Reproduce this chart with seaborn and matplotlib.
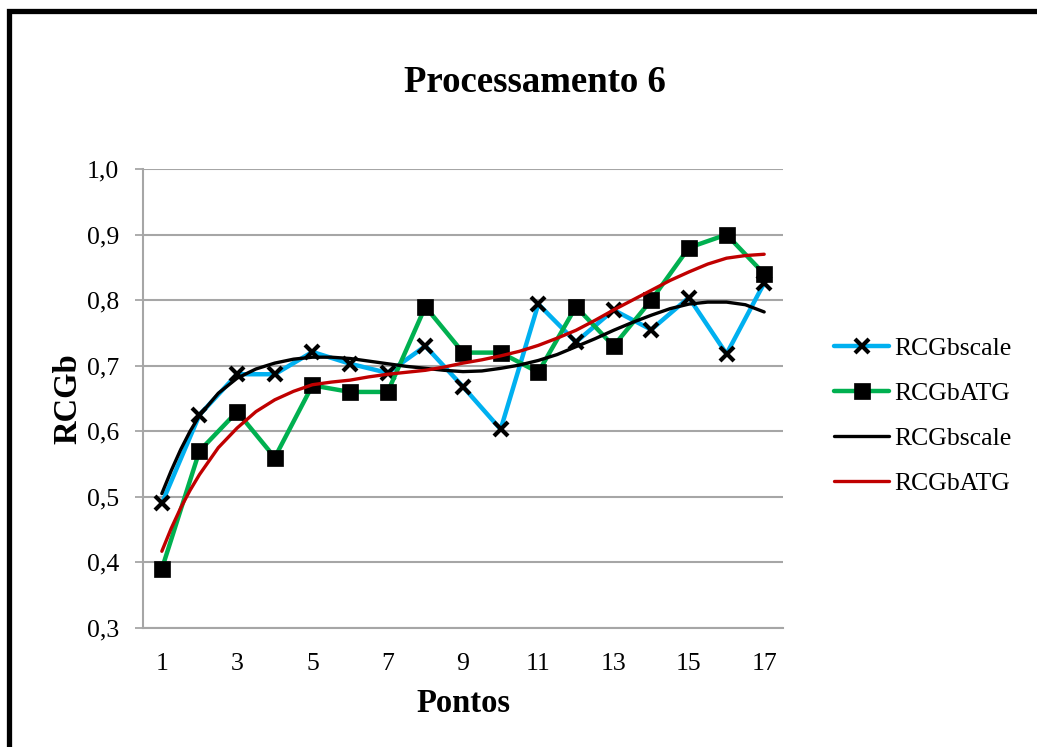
import matplotlib
matplotlib.use("Agg")
import matplotlib.pyplot as plt
import matplotlib.patches as patches
import seaborn as sns

# data
pontos = list(range(1, 18))
rcgb_scale = [0.49, 0.625, 0.687, 0.687, 0.721, 0.703, 0.689, 0.730, 0.668,
              0.603, 0.794, 0.736, 0.785, 0.755, 0.804, 0.718, 0.826]
rcgb_atg = [0.39, 0.57, 0.63, 0.56, 0.67, 0.66, 0.66, 0.79, 0.72,
            0.72, 0.69, 0.79, 0.73, 0.80, 0.88, 0.90, 0.84]

# trend lines (polynomial trendlines in the original)
trend_x = [1, 1.25, 1.5, 1.75, 2, 2.5, 3, 3.5, 4, 4.5, 5, 5.5, 6, 6.5, 7,
           7.5, 8, 8.5, 9, 9.5, 10, 10.5, 11, 11.5, 12, 12.5, 13, 13.5, 14,
           14.5, 15, 15.5, 16, 16.5, 17]
trend_scale = [0.505, 0.540, 0.572, 0.600, 0.624, 0.658, 0.681, 0.695, 0.704,
               0.710, 0.713, 0.713, 0.711, 0.707, 0.703, 0.699, 0.696, 0.693,
               0.691, 0.692, 0.696, 0.701, 0.708, 0.717, 0.729, 0.741, 0.754,
               0.766, 0.777, 0.787, 0.794, 0.797, 0.797, 0.793, 0.782]
trend_atg = [0.417, 0.452, 0.483, 0.510, 0.534, 0.575, 0.605, 0.630, 0.648,
             0.661, 0.671, 0.675, 0.678, 0.683, 0.687, 0.690, 0.693, 0.698,
             0.704, 0.709, 0.715, 0.722, 0.731, 0.742, 0.754, 0.769, 0.785,
             0.800, 0.815, 0.830, 0.843, 0.855, 0.864, 0.868, 0.870]

y_ticks = [0.3, 0.4, 0.5, 0.6, 0.7, 0.8, 0.9, 1.0]
y_labels = ["0,3", "0,4", "0,5", "0,6", "0,7", "0,8", "0,9", "1,0"]
x_ticks = [1, 3, 5, 7, 9, 11, 13, 15, 17]

sns.set_theme(style="white")
plt.rcParams["font.family"] = ["Liberation Serif", "DejaVu Serif"]
plt.rcParams["text.color"] = "black"
plt.rcParams["axes.labelcolor"] = "black"
plt.rcParams["xtick.labelcolor"] = "black"
plt.rcParams["ytick.labelcolor"] = "black"

W, H = 1037, 747
fig = plt.figure(figsize=(W / 100, H / 100), dpi=100)
ax = fig.add_axes([143 / W, 1 - 628 / H, (783 - 143) / W, (628 - 169) / H])

grid_color = "#A6A6A6"

sns.lineplot(x=pontos, y=rcgb_scale, ax=ax, color="#00B0F0", lw=3.2,
             marker="x", ms=10, mec="black", mew=3, label="RCGbscale", zorder=3)
sns.lineplot(x=pontos, y=rcgb_atg, ax=ax, color="#00B050", lw=3.2,
             marker="s", ms=11.5, mfc="black", mec="black", mew=0.5,
             label="RCGbATG", zorder=3)
sns.lineplot(x=trend_x, y=trend_scale, ax=ax, color="black", lw=2.4,
             solid_joinstyle="round", label="RCGbscale", zorder=4)
sns.lineplot(x=trend_x, y=trend_atg, ax=ax, color="#C00000", lw=2.4,
             solid_joinstyle="round", label="RCGbATG", zorder=4)

ax.set_xlim(0.5, 17.5)
ax.set_ylim(0.3, 1.0)
ax.set_yticks(y_ticks)
ax.set_yticklabels(y_labels)
ax.set_xticks(x_ticks)
ax.set_xticklabels([str(v) for v in x_ticks])
ax.tick_params(axis="y", length=6, width=1.3, color=grid_color, direction="out",
               pad=11, labelsize=18.5, left=True)
ax.tick_params(axis="x", length=0, pad=18, labelsize=18.5)

ax.yaxis.grid(True, color=grid_color, lw=1.5)
ax.xaxis.grid(False)
for side in ["top", "right"]:
    ax.spines[side].set_visible(False)
for side in ["left", "bottom"]:
    ax.spines[side].set_color(grid_color)
    ax.spines[side].set_linewidth(1.5)

ax.set_xlabel("Pontos", fontsize=23.5, fontweight="bold", labelpad=9)
ax.set_ylabel("RCGb", fontsize=23.5, fontweight="bold", labelpad=3)

fig.text(535 / W, 1 - 83 / H, "Processamento 6", fontsize=26.5,
         fontweight="bold", ha="center", va="center")

leg = ax.legend(loc="center left", bbox_to_anchor=(834 / W, 1 - 416 / H),
                bbox_transform=fig.transFigure, frameon=False, fontsize=18.5,
                handlelength=2.15, handletextpad=0.2, labelspacing=0.86,
                borderaxespad=0, borderpad=0)

# black frame of the chart area (right and bottom edges fall outside the image)
frame = patches.Rectangle((8.5 / W, -0.1), 1.2, 1 - 11 / H + 0.1,
                          transform=fig.transFigure, fill=False,
                          edgecolor="black", lw=3.8, clip_on=False)
fig.add_artist(frame)

fig.savefig("out.png", dpi=100, facecolor="white")
